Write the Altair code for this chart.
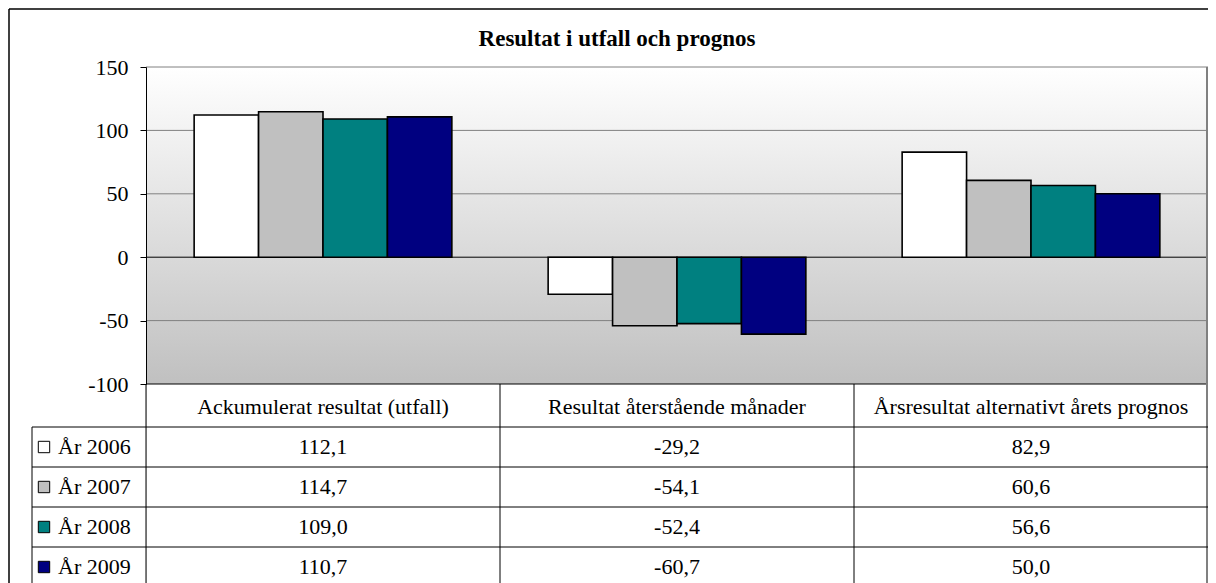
import altair as alt
import pandas as pd

# ---------------- data ----------------
title_text = "Resultat i utfall och prognos"
categories = ["Ackumulerat resultat (utfall)", "Resultat återstående månader",
              "Årsresultat alternativt årets prognos"]
years = ["År 2006", "År 2007", "År 2008", "År 2009"]
v2006 = [112.1, -29.2, 82.9]
v2007 = [114.7, -54.1, 60.6]
v2008 = [109.0, -52.4, 56.6]
v2009 = [110.7, -60.7, 50.0]
year_colors = ["#ffffff", "#c0c0c0", "#008080", "#000080"]
y_ticks = [-100, -50, 0, 50, 100, 150]
grid_gray = [150, 100, 50, -50]
grid_black = [0, -100]

series = [v2006, v2007, v2008, v2009]
rows = []
for yr, vals in zip(years, series):
    for cat, v in zip(categories, vals):
        rows.append({"cat": cat, "row": yr, "value": v})
df = pd.DataFrame(rows)
df_years = pd.DataFrame({"row": years})
df_cats = pd.DataFrame({"cat": categories, "row": ["header"] * len(categories)})
df_one = pd.DataFrame({"t": [title_text]})
df_grid_gray = pd.DataFrame({"v": grid_gray})
df_grid_black = pd.DataFrame({"v": grid_black})

# ---------------- layout ----------------
FONT = "Liberation Serif"
FS = 22
W = 1062          # plot width
HB = 317          # bar area height
H = 522           # total plot height (bars + table)

ybar = alt.Scale(domain=[-100, 150], range=[HB, 0], nice=False, zero=False)
xbar = alt.Scale(domain=categories, paddingInner=0.272, paddingOuter=0.136)
fill_scale = alt.Scale(domain=years, range=year_colors)

bg = alt.Chart(df_one).mark_rect(
    fill=alt.Gradient(gradient="linear", x1=0, y1=0, x2=0, y2=1,
                      stops=[alt.GradientStop(color="#ffffff", offset=0),
                             alt.GradientStop(color="#c0c0c0", offset=1)])
).encode(x=alt.value(0), x2=alt.value(W),
         y=alt.Y(datum=150, type="quantitative", scale=ybar,
                 axis=alt.Axis(values=y_ticks, grid=False, domainColor="black",
                               tickColor="black", tickSize=6, labelPadding=12,
                               labelExpr="replace(datum.label, '\u2212', '-')",
                               labelFont=FONT, labelFontSize=FS, labelColor="black",
                               title=None, zindex=2)),
         y2=alt.datum(-100))

grid1 = alt.Chart(df_grid_gray).mark_rule(color="#808080", strokeWidth=1).encode(
    y=alt.Y("v:Q", scale=ybar), x=alt.value(0), x2=alt.value(W))
grid2 = alt.Chart(df_grid_black).mark_rule(color="black", strokeWidth=1).encode(
    y=alt.Y("v:Q", scale=ybar), x=alt.value(0), x2=alt.value(W))

bars = alt.Chart(df).mark_bar(stroke="black", strokeWidth=1.6).encode(
    x=alt.X("cat:N", scale=xbar, axis=None, sort=categories),
    xOffset=alt.XOffset("row:N", sort=years, scale=alt.Scale(paddingInner=0, paddingOuter=0)),
    y=alt.Y("value:Q", scale=ybar),
    fill=alt.Fill("row:N", scale=fill_scale, legend=None),
)

right_border = alt.Chart(df_one).mark_rule(color="#808080", strokeWidth=2).encode(
    x=alt.value(W - 1), y=alt.value(0), y2=alt.value(H))

bar_part = alt.layer(bg, grid1, grid2, bars, right_border)

# ---------------- table ----------------
xtab = alt.Scale(domain=categories, paddingInner=0, paddingOuter=0)
ytab = alt.Scale(domain=["header"] + years, range=[320, 520], paddingInner=0, paddingOuter=0)

hlines = alt.Chart(df_years).mark_rule(color="black", strokeWidth=1).encode(
    y=alt.Y("row:N", scale=ytab, bandPosition=0, axis=None),
    x=alt.value(-114), x2=alt.value(W))
vlines = alt.Chart(df_cats).mark_rule(color="black", strokeWidth=1).encode(
    x=alt.X("cat:N", scale=xtab, bandPosition=0, axis=None, sort=categories),
    y=alt.value(HB), y2=alt.value(H))
leftcol = alt.Chart(df_years.head(1)).mark_rule(color="black", strokeWidth=1).encode(
    x=alt.value(-114),
    y=alt.Y("row:N", scale=ytab, bandPosition=0, axis=None),
    y2=alt.value(H))

header = alt.Chart(df_cats).mark_text(font=FONT, fontSize=FS, color="black",
                                      baseline="middle").encode(
    x=alt.X("cat:N", scale=xtab, axis=None, sort=categories),
    y=alt.Y("row:N", scale=ytab, axis=None),
    text="cat:N")

values = alt.Chart(df).transform_calculate(
    label="(datum.value < 0 ? '-' : '') + replace(format(abs(datum.value), '.1f'), '.', ',')"
).mark_text(font=FONT, fontSize=FS, color="black", baseline="middle").encode(
    x=alt.X("cat:N", scale=xtab, axis=None, sort=categories),
    y=alt.Y("row:N", scale=ytab, axis=None),
    text="label:N")

swatch = alt.Chart(df_years).mark_point(shape="square", filled=True, size=130,
                                        stroke="black", strokeWidth=1, opacity=1).encode(
    x=alt.value(-102),
    y=alt.Y("row:N", scale=ytab, axis=None),
    fill=alt.Fill("row:N", scale=fill_scale, legend=None))

rowlab = alt.Chart(df_years).mark_text(font=FONT, fontSize=FS, color="black",
                                       align="left", baseline="middle").encode(
    x=alt.value(-88),
    y=alt.Y("row:N", scale=ytab, axis=None),
    text="row:N")

table_part = alt.layer(hlines, vlines, leftcol, header, values, swatch, rowlab)

# ---------------- frame + title ----------------
frame_l = alt.Chart(df_one).mark_rule(color="black", strokeWidth=1.5).encode(
    x=alt.value(-137), y=alt.value(-58), y2=alt.value(H))
frame_t = alt.Chart(df_one).mark_rule(color="black", strokeWidth=1.5).encode(
    x=alt.value(-137), x2=alt.value(W + 5), y=alt.value(-58))
title = alt.Chart(df_one).mark_text(font=FONT, fontSize=23, fontWeight="bold",
                                    color="black", baseline="middle").encode(
    x=alt.value(471), y=alt.value(-28), text="t:N")

chart = alt.layer(bar_part, table_part, frame_l, frame_t, title).resolve_scale(
    x="independent", y="independent"
).properties(
    width=W, height=H,
    autosize=alt.AutoSizeParams(type="none"),
    padding={"left": 138, "top": 59, "right": 0, "bottom": 0},
).configure_view(stroke=None).configure(font=FONT)

chart.save("out.html", embed_options={"renderer": "svg", "actions": False})
